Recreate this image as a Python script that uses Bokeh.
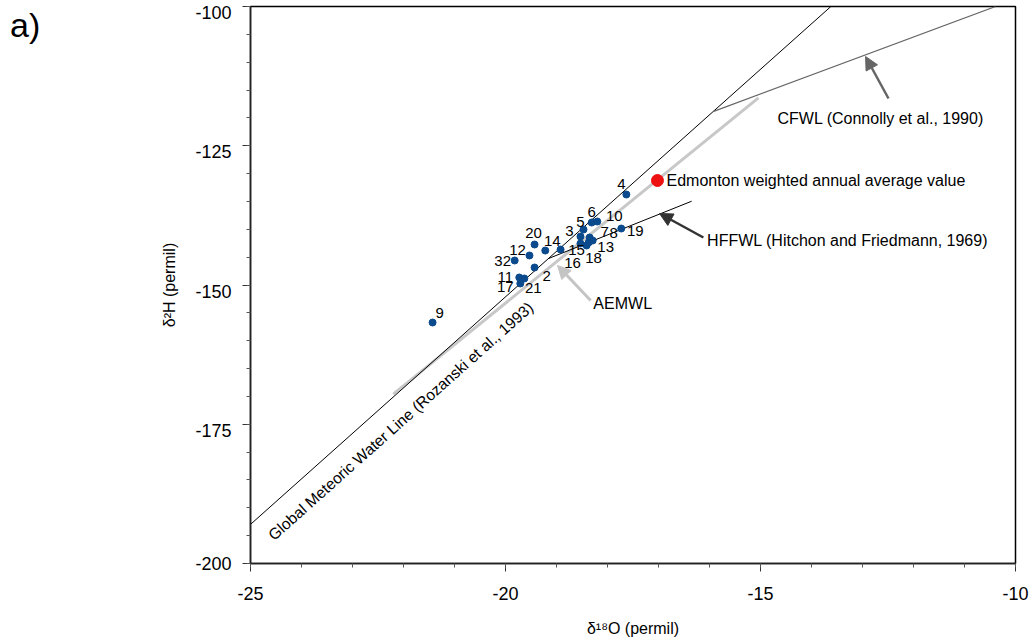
import math

from bokeh.plotting import figure
from bokeh.layouts import row
from bokeh.models import Range1d, FixedTicker, Arrow, NormalHead, LinearAxis, Div
from bokeh.core.properties import value
from bokeh.embed import file_html
from bokeh.resources import INLINE

FONT = "Liberation Sans"

# Groundwater samples: delta-18O and delta-2H (permil, VSMOW)
sample_ids = ["4", "6", "10", "19", "5", "3", "7", "8", "13", "18", "16",
              "15", "14", "20", "12", "32", "2", "11", "21", "17", "9"]
d18o = [-17.63, -18.31, -18.20, -17.73, -18.47, -18.53, -18.35, -18.29, -18.37, -18.41, -18.53,
        -18.92, -19.22, -19.43, -19.53, -19.82, -19.43, -19.73, -19.63, -19.71, -21.43]
d2h = [-133.75, -138.78, -138.60, -139.86, -140.04, -141.29, -141.47, -142.01, -142.37, -142.91, -142.55,
       -143.63, -143.81, -142.73, -144.70, -145.60, -146.86, -148.65, -148.83, -149.73, -156.73]

# Edmonton weighted annual average precipitation
edm_d18o = [-17.02]
edm_d2h = [-131.24]

# Reference water lines (segment end points)
gmwl_x, gmwl_y = [-25.0, -13.62], [-192.98, -100.0]
aemwl_x, aemwl_y = [-22.2, -15.04], [-169.6, -116.4]
hffwl_x, hffwl_y = [-19.16, -16.35], [-145.26, -134.96]
cfwl_x, cfwl_y = [-15.93, -10.39], [-118.88, -100.0]

x_ticks = [-25, -20, -15, -10]
x_tick_labels = ["-25", "-20", "-15", "-10"]
y_ticks = [-200, -175, -150, -125, -100]
y_tick_labels = ["-200", "-175", "-150", "-125", "-100"]

# label placement for the sample numbers (screen pixels, y down)
label_dx = [-5, 0, 17, 14, -3, -11, 15, 21, 17, 7, -8, 16, 7, -1, -12, -12, 12, -14, 9, -15, 7]
label_dy = [-10, -11, -6, 2, -8, -5, -5, -7, 4, 12, 19, 0, -10, -12, -5, 1, 8, 0, 10, 4, -9]

X0, X1, Y0, Y1 = -25, -10, -200, -100
TAG_W = 60
W, H = 1032 - TAG_W, 644
BL, BR, BT, BB = 250 - TAG_W, 17, 6, 81

p = figure(width=W, height=H, output_backend="svg", toolbar_location=None,
           x_range=Range1d(X0, X1), y_range=Range1d(Y0, Y1),
           min_border_left=BL, min_border_right=BR, min_border_top=BT, min_border_bottom=BB,
           background_fill_color="white", border_fill_color="white")
p.grid.visible = False
p.outline_line_color = "black"
p.outline_line_width = 1.5

px_x = (W - BL - BR) / (X1 - X0)
px_y = (H - BT - BB) / (Y1 - Y0)


def style_axis(ax):
    ax.axis_line_color = "#222222"
    ax.axis_line_width = 1.5
    ax.major_tick_line_color = "#333333"
    ax.minor_tick_line_color = "#555555"
    ax.major_tick_in = 0
    ax.minor_tick_in = 0
    ax.major_tick_out = 8
    ax.minor_tick_out = 4
    ax.major_label_text_font = FONT
    ax.major_label_text_font_size = "18px"
    ax.major_label_text_color = "black"
    ax.axis_label_text_font = FONT
    ax.axis_label_text_font_size = "16px"
    ax.axis_label_text_font_style = "normal"
    ax.axis_label_text_color = "black"


xax = p.xaxis[0]
yax = p.yaxis[0]
style_axis(xax)
style_axis(yax)

xax.ticker = FixedTicker(ticks=x_ticks, minor_ticks=list(range(X0, X1 + 1)))
xax.major_label_overrides = dict(zip(x_ticks, x_tick_labels))
xax.major_label_standoff = 15
xax.axis_label = "δ¹⁸O (permil)"
xax.axis_label_standoff = 17

# left axis: ticks only; its numbers sit on a second axis, set a little lower
yax.ticker = FixedTicker(ticks=y_ticks, minor_ticks=list(range(Y0, Y1 + 1, 5)))
yax.major_label_overrides = {t: "" for t in y_ticks}
yax.major_label_standoff = 0

shift = 6 / px_y
lab_lo, lab_hi = Y0 + shift, Y1 + shift
p.extra_y_ranges = {"ticklabels": Range1d(lab_lo, lab_hi)}
lab_pos = [max(t, lab_lo) for t in y_ticks]
lab_ax = LinearAxis(y_range_name="ticklabels")
style_axis(lab_ax)
lab_ax.ticker = FixedTicker(ticks=lab_pos, minor_ticks=[])
lab_ax.major_label_overrides = dict(zip(lab_pos, y_tick_labels))
lab_ax.axis_line_color = None
lab_ax.major_tick_line_color = None
lab_ax.minor_tick_line_color = None
lab_ax.major_tick_out = 0
lab_ax.minor_tick_out = 0
lab_ax.major_label_standoff = 11
lab_ax.axis_label = "δ²H (permil)"
lab_ax.axis_label_standoff = 14
p.add_layout(lab_ax, "left")

# water lines
p.line(aemwl_x, aemwl_y, line_color="#c8c8c8", line_width=3)
p.line(gmwl_x, gmwl_y, line_color="black", line_width=1)
p.line(hffwl_x, hffwl_y, line_color="black", line_width=1)
p.line(cfwl_x, cfwl_y, line_color="#666666", line_width=1.2)

# GMWL caption, rotated along the line
slope = (gmwl_y[1] - gmwl_y[0]) / (gmwl_x[1] - gmwl_x[0])
theta = math.atan(slope * px_y / px_x)
gx = -24.906
gy = gmwl_y[0] + slope * (gx - gmwl_x[0])
p.text(x=[gx], y=[gy], text=["Global Meteoric Water Line (Rozanski et al., 1993)"],
       angle=theta, x_offset=15.2, y_offset=17.1,
       text_font=value(FONT), text_font_size="15.6px", text_color="black",
       text_align="left", text_baseline="alphabetic")

# arrows pointing at the lines, with their captions at the tails
arrows = [
    ((-12.49, -116.52), (-12.94, -108.98), "#666666", 2.5, "CFWL (Connolly et al., 1990)", -111, 19.5),
    ((-16.12, -141.47), (-16.98, -137.16), "#333333", 2.5, "HFFWL (Hitchon and Friedmann, 1969)", 3.7, 3),
    ((-18.33, -152.78), (-18.98, -146.50), "#c4c4c4", 3, "AEMWL", 2.7, 2.7),
]
for (xs, ys), (xe, ye), col, lw, txt, dx, dy in arrows:
    p.add_layout(Arrow(end=NormalHead(size=13, fill_color=col, line_color=col),
                       x_start=xs, y_start=ys, x_end=xe, y_end=ye,
                       line_color=col, line_width=lw))
    p.text(x=[xs], y=[ys], text=[txt], x_offset=dx, y_offset=dy,
           text_font=value(FONT), text_font_size="16px", text_color="black",
           text_align="left", text_baseline="middle")

# samples
p.scatter(d18o, d2h, size=7, fill_color="#0b4a8c", line_color="#0b4a8c")
p.text(x=d18o, y=d2h, text=sample_ids, x_offset=label_dx, y_offset=label_dy,
       text_font=value(FONT), text_font_size="15px", text_color="black",
       text_align="center", text_baseline="middle")

# Edmonton precipitation
p.scatter(edm_d18o, edm_d2h, size=12, fill_color="#ee1111", line_color="#ee1111")
p.text(x=edm_d18o, y=edm_d2h, text=["Edmonton weighted annual average value"], x_offset=9,
       text_font=value(FONT), text_font_size="16px", text_color="black",
       text_align="left", text_baseline="middle")

# panel letter
tag = Div(text="a)", width=TAG_W, height=H, margin=0,
          styles={"font-family": FONT, "font-size": "34px", "line-height": "1",
                  "padding-left": "10px", "padding-top": "8px", "color": "black",
                  "box-sizing": "border-box"})

layout = row(tag, p, spacing=0)
open("out.html", "w").write(file_html(layout, INLINE))
